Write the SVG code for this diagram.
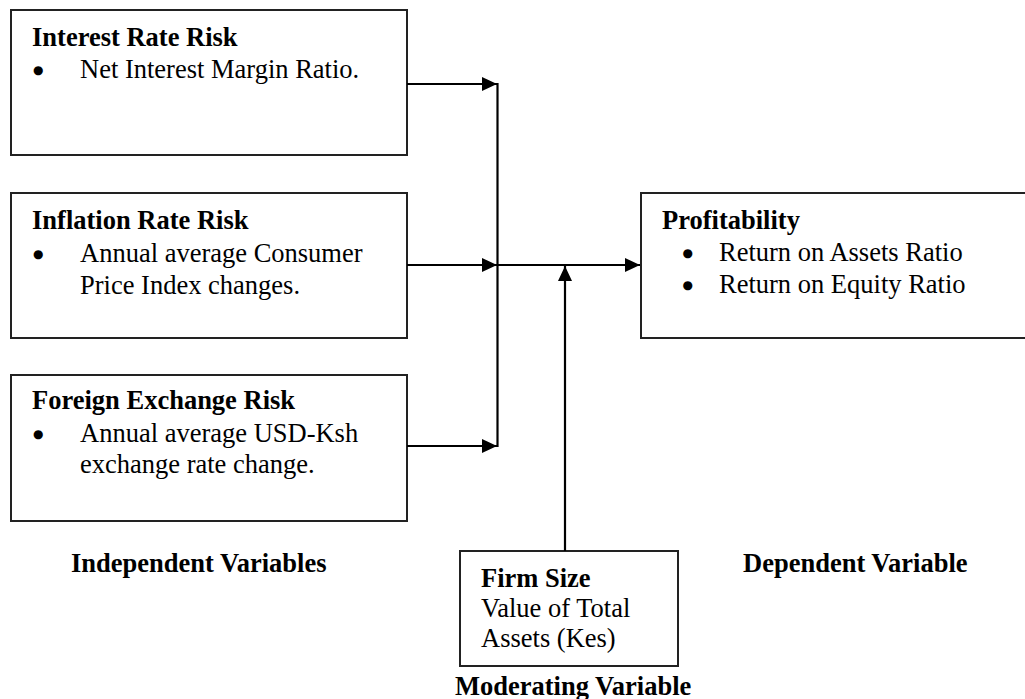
<svg xmlns="http://www.w3.org/2000/svg" width="1025" height="699" viewBox="0 0 1025 699">
<style>
  .box { fill: #fff; stroke: #222; stroke-width: 2; }
  .t { font-family: "Liberation Serif", "Times New Roman", serif; font-size: 26.5px; fill: #000; }
  .bu { font-family: "DejaVu Sans", sans-serif; font-size: 12px; }
  .b { font-weight: bold; }
  .line { stroke: #000; stroke-width: 2.2; fill: none; }
</style>
<defs>
  <marker id="ah" markerWidth="16" markerHeight="14" refX="15" refY="7" orient="auto" markerUnits="userSpaceOnUse">
    <path d="M0,0 L15,7 L0,14 Z" fill="#000"/>
  </marker>
</defs>

<g id="interest">
  <rect class="box" x="11" y="10" width="396" height="145"/>
  <text class="t b" x="32" y="46">Interest Rate Risk</text>
  <text class="t" y="78"><tspan class="bu" x="33" dy="-4">●</tspan><tspan x="80" dy="4">Net Interest Margin Ratio.</tspan></text>
</g>

<g id="inflation">
  <rect class="box" x="11" y="193" width="396" height="145"/>
  <text class="t b" x="32" y="229">Inflation Rate Risk</text>
  <text class="t" y="262"><tspan class="bu" x="33" dy="-4">●</tspan><tspan x="80" dy="4">Annual average Consumer</tspan></text>
  <text class="t" x="80" y="294">Price Index changes.</text>
</g>

<g id="forex">
  <rect class="box" x="11" y="375" width="396" height="146"/>
  <text class="t b" x="32" y="409">Foreign Exchange Risk</text>
  <text class="t" y="442"><tspan class="bu" x="33" dy="-4">●</tspan><tspan x="80" dy="4">Annual average USD-Ksh</tspan></text>
  <text class="t" x="80" y="473">exchange rate change.</text>
</g>

<g id="profitability">
  <rect class="box" x="641" y="193" width="400" height="145"/>
  <text class="t b" x="662" y="229">Profitability</text>
  <text class="t" y="261"><tspan class="bu" x="682.5" dy="-4">●</tspan><tspan x="719" dy="4">Return on Assets Ratio</tspan></text>
  <text class="t" y="293"><tspan class="bu" x="682.5" dy="-4">●</tspan><tspan x="719" dy="4">Return on Equity Ratio</tspan></text>
</g>

<g id="firmsize">
  <rect class="box" x="460" y="551" width="218" height="115"/>
  <text class="t b" x="481" y="587">Firm Size</text>
  <text class="t" x="481" y="617">Value of Total</text>
  <text class="t" x="481" y="647">Assets (Kes)</text>
</g>

<g id="labels">
  <text class="t b" x="71" y="572">Independent Variables</text>
  <text class="t b" x="743" y="572">Dependent Variable</text>
  <text class="t b" x="455" y="695">Moderating Variable</text>
</g>

<g id="connectors">
  <line class="line" x1="407" y1="84" x2="497" y2="84" marker-end="url(#ah)"/>
  <line class="line" x1="407" y1="265" x2="497" y2="265" marker-end="url(#ah)"/>
  <line class="line" x1="407" y1="446" x2="497" y2="446" marker-end="url(#ah)"/>
  <line class="line" x1="497.5" y1="83" x2="497.5" y2="447"/>
  <line class="line" x1="497.5" y1="265" x2="640" y2="265" marker-end="url(#ah)"/>
  <line class="line" x1="565" y1="551" x2="565" y2="266" marker-end="url(#ah)"/>
</g>
</svg>
